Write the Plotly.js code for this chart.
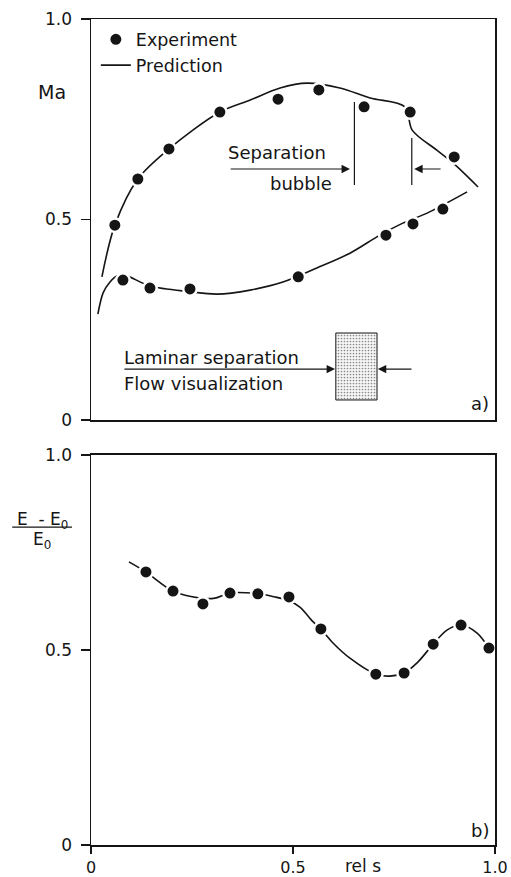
<!DOCTYPE html>
<html>
<head>
<meta charset="utf-8">
<script src="https://cdn.plot.ly/plotly-3.0.1.min.js"></script>
<style>html,body{margin:0;padding:0;background:#fff;}</style>
</head>
<body>
<div id="chart" style="width:511px;height:877px;"></div>
<script>
// ---- Panel a): Mach number distribution ----
const maUpperS   = [0.059, 0.116, 0.193, 0.319, 0.463, 0.564, 0.676, 0.790, 0.899];
const maUpperExp = [0.486, 0.601, 0.676, 0.768, 0.800, 0.823, 0.781, 0.768, 0.656];
const maLowerS   = [0.079, 0.146, 0.245, 0.513, 0.730, 0.797, 0.871];
const maLowerExp = [0.349, 0.329, 0.327, 0.357, 0.461, 0.489, 0.526];

const maUpperPredS = [0.027, 0.059, 0.116, 0.193, 0.319, 0.394, 0.468, 0.535, 0.616, 0.691, 0.777, 0.795, 0.856, 0.896, 0.958];
const maUpperPred  = [0.357, 0.486, 0.601, 0.676, 0.768, 0.798, 0.828, 0.840, 0.828, 0.803, 0.781, 0.723, 0.673, 0.641, 0.581];
const maLowerPredS = [0.017, 0.030, 0.047, 0.064, 0.082, 0.146, 0.245, 0.312, 0.394, 0.475, 0.559, 0.641, 0.715, 0.772, 0.832, 0.931];
const maLowerPred  = [0.264, 0.317, 0.344, 0.359, 0.362, 0.334, 0.320, 0.314, 0.324, 0.344, 0.379, 0.416, 0.461, 0.491, 0.516, 0.569];

// separation bubble (s) and laminar separation from flow visualization (s)
const sepBubble = [0.652, 0.794];
const lamSep    = [0.606, 0.708];

// ---- Panel b): (E - E0)/E0 ----
const eS   = [0.136, 0.203, 0.277, 0.344, 0.413, 0.490, 0.569, 0.705, 0.775, 0.847, 0.916, 0.985];
const eExp = [0.700, 0.651, 0.618, 0.646, 0.644, 0.636, 0.554, 0.438, 0.441, 0.515, 0.564, 0.505];
const ePredS = [0.094, 0.136, 0.203, 0.270, 0.307, 0.344, 0.413, 0.455, 0.490, 0.517, 0.550, 0.569, 0.599, 0.641, 0.705, 0.740, 0.775, 0.809, 0.847, 0.881, 0.916, 0.955, 0.985];
const ePred  = [0.726, 0.700, 0.651, 0.633, 0.633, 0.646, 0.644, 0.636, 0.626, 0.610, 0.572, 0.554, 0.518, 0.479, 0.438, 0.433, 0.441, 0.469, 0.515, 0.551, 0.564, 0.544, 0.505];

const tickVals = [0, 0.5, 1];
const tickText = ['0', '0.5', '1.0'];

const INK = '#151515';
const FONT = 'DejaVu Sans, Liberation Sans, Arial, sans-serif';

const lineStyle = {color: INK, width: 1.6, shape: 'spline', smoothing: 0.9};
const markerStyle = {color: INK, size: 13.5, symbol: 'circle', line: {color: '#ffffff', width: 2.5}};

const traces = [
  {x: maUpperPredS, y: maUpperPred, xaxis: 'x', yaxis: 'y', mode: 'lines', line: lineStyle,
   name: 'Prediction', legendgroup: 'pred', showlegend: true, legendrank: 2},
  {x: maLowerPredS, y: maLowerPred, xaxis: 'x', yaxis: 'y', mode: 'lines', line: lineStyle,
   legendgroup: 'pred', showlegend: false},
  {x: lamSep.concat([lamSep[1], lamSep[0], lamSep[0]]), y: [0.050, 0.050, 0.217, 0.217, 0.050],
   xaxis: 'x', yaxis: 'y', mode: 'lines', fill: 'toself', fillcolor: '#e6e6e6',
   fillpattern: {shape: '.', fgcolor: '#8a8a8a', bgcolor: '#f6f6f6', size: 3, solidity: 0.25},
   line: {color: INK, width: 1}, showlegend: false, hoverinfo: 'skip'},
  {x: maUpperS, y: maUpperExp, xaxis: 'x', yaxis: 'y', mode: 'markers', marker: markerStyle,
   name: 'Experiment', legendgroup: 'exp', showlegend: true, legendrank: 1},
  {x: maLowerS, y: maLowerExp, xaxis: 'x', yaxis: 'y', mode: 'markers', marker: markerStyle,
   legendgroup: 'exp', showlegend: false},
  {x: ePredS, y: ePred, xaxis: 'x2', yaxis: 'y2', mode: 'lines', line: lineStyle,
   legendgroup: 'pred', showlegend: false},
  {x: eS, y: eExp, xaxis: 'x2', yaxis: 'y2', mode: 'markers', marker: markerStyle,
   legendgroup: 'exp', showlegend: false}
];

const axisCommon = {
  range: [0, 1], showline: true, mirror: true, linecolor: INK, linewidth: 1.5,
  showgrid: false, zeroline: false, tickcolor: INK, tickwidth: 1.5,
  tickfont: {family: FONT, size: 17, color: INK}, fixedrange: true
};

const arrow = (x, y, ax, ay, xr, yr) => ({
  x: x, y: y, ax: ax, ay: ay, xref: xr, yref: yr, axref: xr, ayref: yr,
  text: '', showarrow: true, arrowhead: 2, arrowsize: 1.4, arrowwidth: 1.2,
  arrowcolor: INK, standoff: 0, startstandoff: 0
});
const label = (text, x, y, xr, yr, xanchor, size) => ({
  text: text, x: x, y: y, xref: xr, yref: yr, xanchor: xanchor || 'left', yanchor: 'middle',
  showarrow: false, font: {family: FONT, size: size || 18, color: INK}
});

const annotations = [
  label('Ma', -0.096, 0.818, 'paper', 'y', 'center', 19),
  label('Separation', 0.334, 0.666, 'x', 'y', 'left'),
  label('bubble', 0.602, 0.589, 'x', 'y', 'right'),
  arrow(sepBubble[0] - 0.011, 0.626, 0.342, 0.626, 'x', 'y'),
  arrow(sepBubble[1] + 0.006, 0.626, 0.869, 0.626, 'x', 'y'),
  label('Laminar separation', 0.076, 0.157, 'x', 'y', 'left'),
  label('Flow visualization', 0.076, 0.092, 'x', 'y', 'left'),
  arrow(lamSep[0] - 0.002, 0.127, 0.079, 0.127, 'x', 'y'),
  arrow(lamSep[1] + 0.002, 0.127, 0.797, 0.127, 'x', 'y'),
  label('a)', 0.963, 0.042, 'x', 'y', 'center'),
  label('b)', 0.963, 0.038, 'x2', 'y2', 'center'),
  label('E  - E<sub>0</sub>', -0.121, 0.832, 'paper', 'y2', 'center', 17),
  label('E<sub>0</sub>', -0.121, 0.780, 'paper', 'y2', 'center', 17),
  label('rel s', 0.673, -0.025, 'x2', 'paper', 'center', 17)
];

const shapes = [
  {type: 'line', xref: 'x', yref: 'y', x0: sepBubble[0], x1: sepBubble[0], y0: 0.586, y1: 0.793,
   line: {color: INK, width: 1.2}},
  {type: 'line', xref: 'x', yref: 'y', x0: sepBubble[1], x1: sepBubble[1], y0: 0.586, y1: 0.703,
   line: {color: INK, width: 1.2}},
  {type: 'line', xref: 'paper', yref: 'y2', x0: -0.195, x1: -0.047, y0: 0.815, y1: 0.815,
   line: {color: INK, width: 1.2}}
];

const layout = {
  width: 511, height: 877,
  margin: {l: 91, r: 16, t: 19, b: 32},
  paper_bgcolor: '#ffffff', plot_bgcolor: '#ffffff',
  font: {family: FONT, size: 18, color: INK},
  showlegend: true,
  legend: {x: 0.012, y: 0.997, xanchor: 'left', yanchor: 'top', bgcolor: 'rgba(0,0,0,0)',
           borderwidth: 0, font: {family: FONT, size: 17.5, color: INK}, traceorder: 'normal',
           itemwidth: 30, tracegroupgap: 0},
  xaxis: Object.assign({}, axisCommon, {domain: [0, 1], anchor: 'y', ticks: '', showticklabels: false}),
  yaxis: Object.assign({}, axisCommon, {domain: [0.5145, 1], anchor: 'x', ticks: 'outside', ticklen: 9,
          ticklabelstandoff: 5, tickvals: tickVals, ticktext: tickText}),
  xaxis2: Object.assign({}, axisCommon, {domain: [0, 1], anchor: 'y2', ticks: 'outside', ticklen: 7,
          tickfont: {family: FONT, size: 16, color: INK}, tickvals: tickVals, ticktext: tickText}),
  yaxis2: Object.assign({}, axisCommon, {domain: [0, 0.4722], anchor: 'x2', ticks: 'outside', ticklen: 9,
          ticklabelstandoff: 5, tickvals: tickVals, ticktext: tickText}),
  annotations: annotations,
  shapes: shapes
};

Plotly.newPlot('chart', traces, layout, {displayModeBar: false, staticPlot: true});
</script>
</body>
</html>
